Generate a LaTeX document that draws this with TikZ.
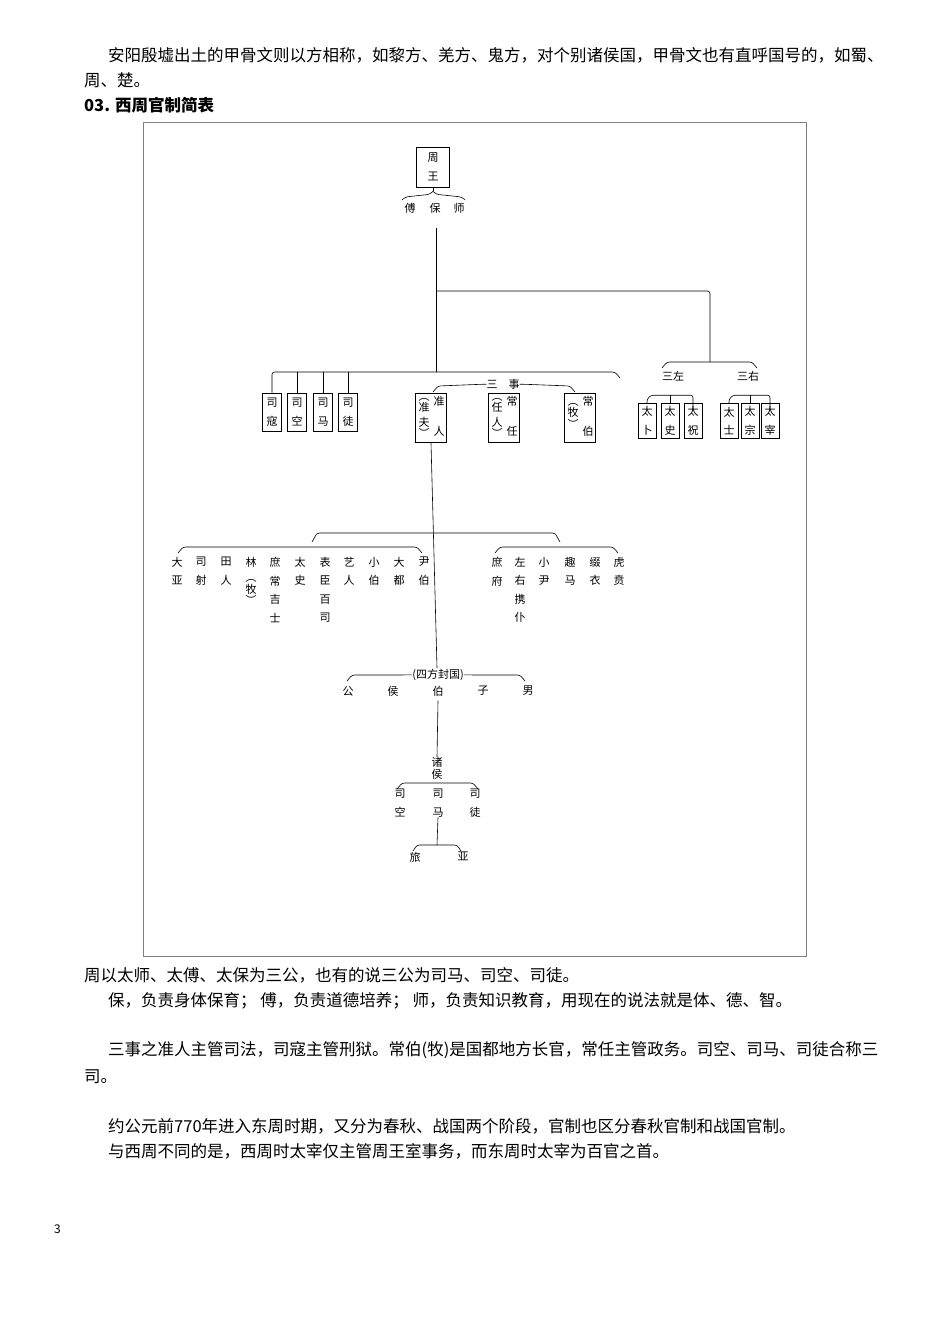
\documentclass[tikz,border=0pt]{standalone}
\usepackage{fontspec}
\setmainfont{Noto Sans CJK SC}
\newcommand\bodyf{\fontsize{16.5}{20}\selectfont}
\newcommand\dgf{\fontsize{11}{18.5}\selectfont}
\tikzset{
 ln/.style={line width=0.6pt, rounded corners=2.5pt},
 bx/.style={draw, line width=0.6pt, inner sep=0pt, minimum width=19pt, minimum height=38pt, font=\dgf, align=center},
 tx/.style={font=\dgf, inner sep=0pt, align=center, anchor=north},
 bt/.style={font=\bodyf, inner sep=0pt, anchor=west}
}
\begin{document}
\begin{tikzpicture}[x=1pt,y=-1pt]
\useasboundingbox (0,0) rectangle (950,1344);
% page text
\node[bt] (p1) at (108,55) {安阳殷墟出土的甲骨文则以方相称，如黎方、羌方、鬼方，对个别诸侯国，甲骨文也有直呼国号的，如蜀、};
\node[bt] (p2) at (84,80) {周、楚。};
\node[bt,font=\bodyf\bfseries] (h) at (84,105) {03. 西周官制简表};
\node[bt] (p3) at (84,975) {周以太师、太傅、太保为三公，也有的说三公为司马、司空、司徒。};
\node[bt] (p4) at (108,1001) {保，负责身体保育；\ 傅，负责道德培养；\ 师，负责知识教育，用现在的说法就是体、德、智。};
\node[bt] (p5) at (108,1050) {三事之准人主管司法，司寇主管刑狱。常伯(牧)是国都地方长官，常任主管政务。司空、司马、司徒合称三};
\node[bt] (p6) at (84,1077) {司。};
\node[bt] (p7) at (108,1126) {约公元前770年进入东周时期，又分为春秋、战国两个阶段，官制也区分春秋官制和战国官制。};
\node[bt] (p8) at (108,1151) {与西周不同的是，西周时太宰仅主管周王室事务，而东周时太宰为百官之首。};
\node[bt,font=\fontsize{12}{14}\selectfont] (pg) at (54,1229) {3};
% frame
\draw[line width=0.5pt, gray] (143,122) rectangle (806,956);
% king
\node[bx, minimum width=33pt, minimum height=40pt] (king) at (433,167) {周\\王};
\draw[ln] (king.south) -- ++(0,4) coordinate (kb);
\draw[line width=0.6pt, rounded corners=3pt] (kb) -- ++(-3,3) -- (405,197) -- (402,200);
\draw[line width=0.6pt, rounded corners=3pt] (kb) -- ++(3,3) -- (462,197) -- (465,200);
\node[tx] (fu) at (410,203) {傅};
\node[tx] (bao) at (435,203) {保};
\node[tx] (shi) at (459,203) {师};
\coordinate (j1) at (436,291);
\coordinate (j2) at (436,372);
\draw[ln] (436,228) -- (j2);
% second-level boxes
\node[bx] (sikou) at (272,412) {司\\寇};
\node[bx] (sikong) at (297,412) {司\\空};
\node[bx] (sima) at (323,412) {司\\马};
\node[bx] (situ) at (348,412) {司\\徒};
\draw[ln] (sikou.north) |- (j2) -- (615,372) -- (620,378);
\foreach \n in {sikong,sima,situ} \draw[line width=0.6pt] (\n.north) -- (\n.north|-j2);
\draw[ln] (j1) -- (710,291) coordinate (j3) -- (710,362) coordinate (j4);
% san shi
\node[tx] (sanshi) at (503,379) {三\quad 事};
\draw[ln] (sanshi.west) -- ++(-5,0) -- (438,386) -- (433,392);
\draw[ln] (sanshi.east) -- ++(5,0) -- (570,386) -- (575,392);
\node[bx, minimum width=31pt, minimum height=49pt] (zhunren) at (431,418) {};
\node[tx] (zr1) at (439,396) {准\\[12pt]人};
\node[tx] (zr2) at (424,398) {︵\\[-7pt]准\\[-4pt]夫\\[-7pt]︶};
\node[bx, minimum width=31pt, minimum height=49pt] (changren) at (504,418) {};
\node[tx] (cr1) at (512,396) {常\\[12pt]任};
\node[tx] (cr2) at (497,398) {︵\\[-7pt]任\\[-4pt]人\\[-7pt]︶};
\node[bx, minimum width=31pt, minimum height=49pt] (changbo) at (580,418) {};
\node[tx] (cb1) at (588,396) {常\\[12pt]伯};
\node[tx] (cb2) at (573,403) {︵\\[-7pt]牧\\[-7pt]︶};
% san zuo / san you
\node[tx] (sanzuo) at (673,371) {三左};
\node[tx] (sanyou) at (748,371) {三右};
\draw[ln] (662,368) -- (667,362) -- (752,362) -- (757,368);
\node[bx, minimum width=18pt, minimum height=35pt] (taibu) at (647,421) {太\\卜};
\node[bx, minimum width=18pt, minimum height=35pt] (taishi) at (670,421) {太\\史};
\node[bx, minimum width=18pt, minimum height=35pt] (taizhu) at (693,421) {太\\祝};
\draw[ln] (taibu.north) -- ++(0,-4) -- ++(4,-4) -| ([yshift=-8pt]taizhu.north) -- (taizhu.north);
\draw[line width=0.6pt] (taishi.north) -- ++(0,-8);
\node[bx, minimum width=18pt, minimum height=35pt] (taishi2) at (729,421) {太\\士};
\node[bx, minimum width=18pt, minimum height=35pt] (taizong) at (750,421) {太\\宗};
\node[bx, minimum width=18pt, minimum height=35pt] (taizai) at (770,421) {太\\宰};
\draw[ln] (taishi2.north) -- ++(0,-4) -- ++(4,-4) -| ([yshift=-8pt]taizai.north) -- (taizai.north);
\draw[line width=0.6pt] (taizong.north) -- ++(0,-8);
% third level
\draw[line width=0.6pt] (zhunren.south) -- (437,668);
\draw[ln] (312,542) -- (317,533) -- (555,533) -- (560,542);
\draw[ln] (178,553) -- (183,547) -- (417,547) -- (422,553);
\draw[ln] (495,553) -- (500,547) -- (613,547) -- (618,553);
\foreach \x/\t/\n in {177/大\\亚/a1, 201/司\\射/a2, 226/田\\人/a3, 275/庶\\常\\吉\\士/a5, 300/太\\史/a6, 325/表\\臣\\百\\司/a7, 349/艺\\人/a8, 374/小\\伯/a9, 399/大\\都/a10, 424/尹\\伯/a11, 497/庶\\府/b1, 520/左\\右\\携\\仆/b2, 544/小\\尹/b3, 570/趣\\马/b4, 595/缀\\衣/b5, 619/虎\\贲/b6}
  \node[tx] (\n) at (\x,557) {\t};
\node[tx] (a4) at (251,557) {林\\[-3pt]︵\\[-7pt]牧\\[-7pt]︶};
% fourth level
\node[tx] (sifang) at (438,669) {(四方封国)};
\draw[ln] (sifang.west) -- (352,675) -- (347,681);
\draw[ln] (sifang.east) -- (520,675) -- (525,681);
\node[tx] (gong) at (348,686) {公};
\node[tx] (hou) at (393,686) {侯};
\node[tx] (bo) at (438,686) {伯};
\node[tx] (zi) at (483,686) {子};
\node[tx] (nan) at (528,686) {男};
\node[tx, font=\fontsize{11}{12}\selectfont] (zhuhou) at (437,757) {诸\\侯};
\draw[line width=0.6pt] (bo.south) ++(0,4) -- (zhuhou.north);
\draw[ln] (397,789) -- (402,783) -- (473,783) -- (478,789);
\node[tx] (xsk) at (400,789) {司\\空};
\node[tx] (xsm) at (438,789) {司\\马};
\node[tx] (xst) at (475,789) {司\\徒};
\draw[line width=0.6pt] (xsm.south) -- (437,845);
\draw[ln] (413,851) -- (417,845) -- (457,845) -- (461,851);
\node[tx] (lv) at (415,852) {旅};
\node[tx] (ya) at (463,852) {亚};
\end{tikzpicture}
\end{document}
